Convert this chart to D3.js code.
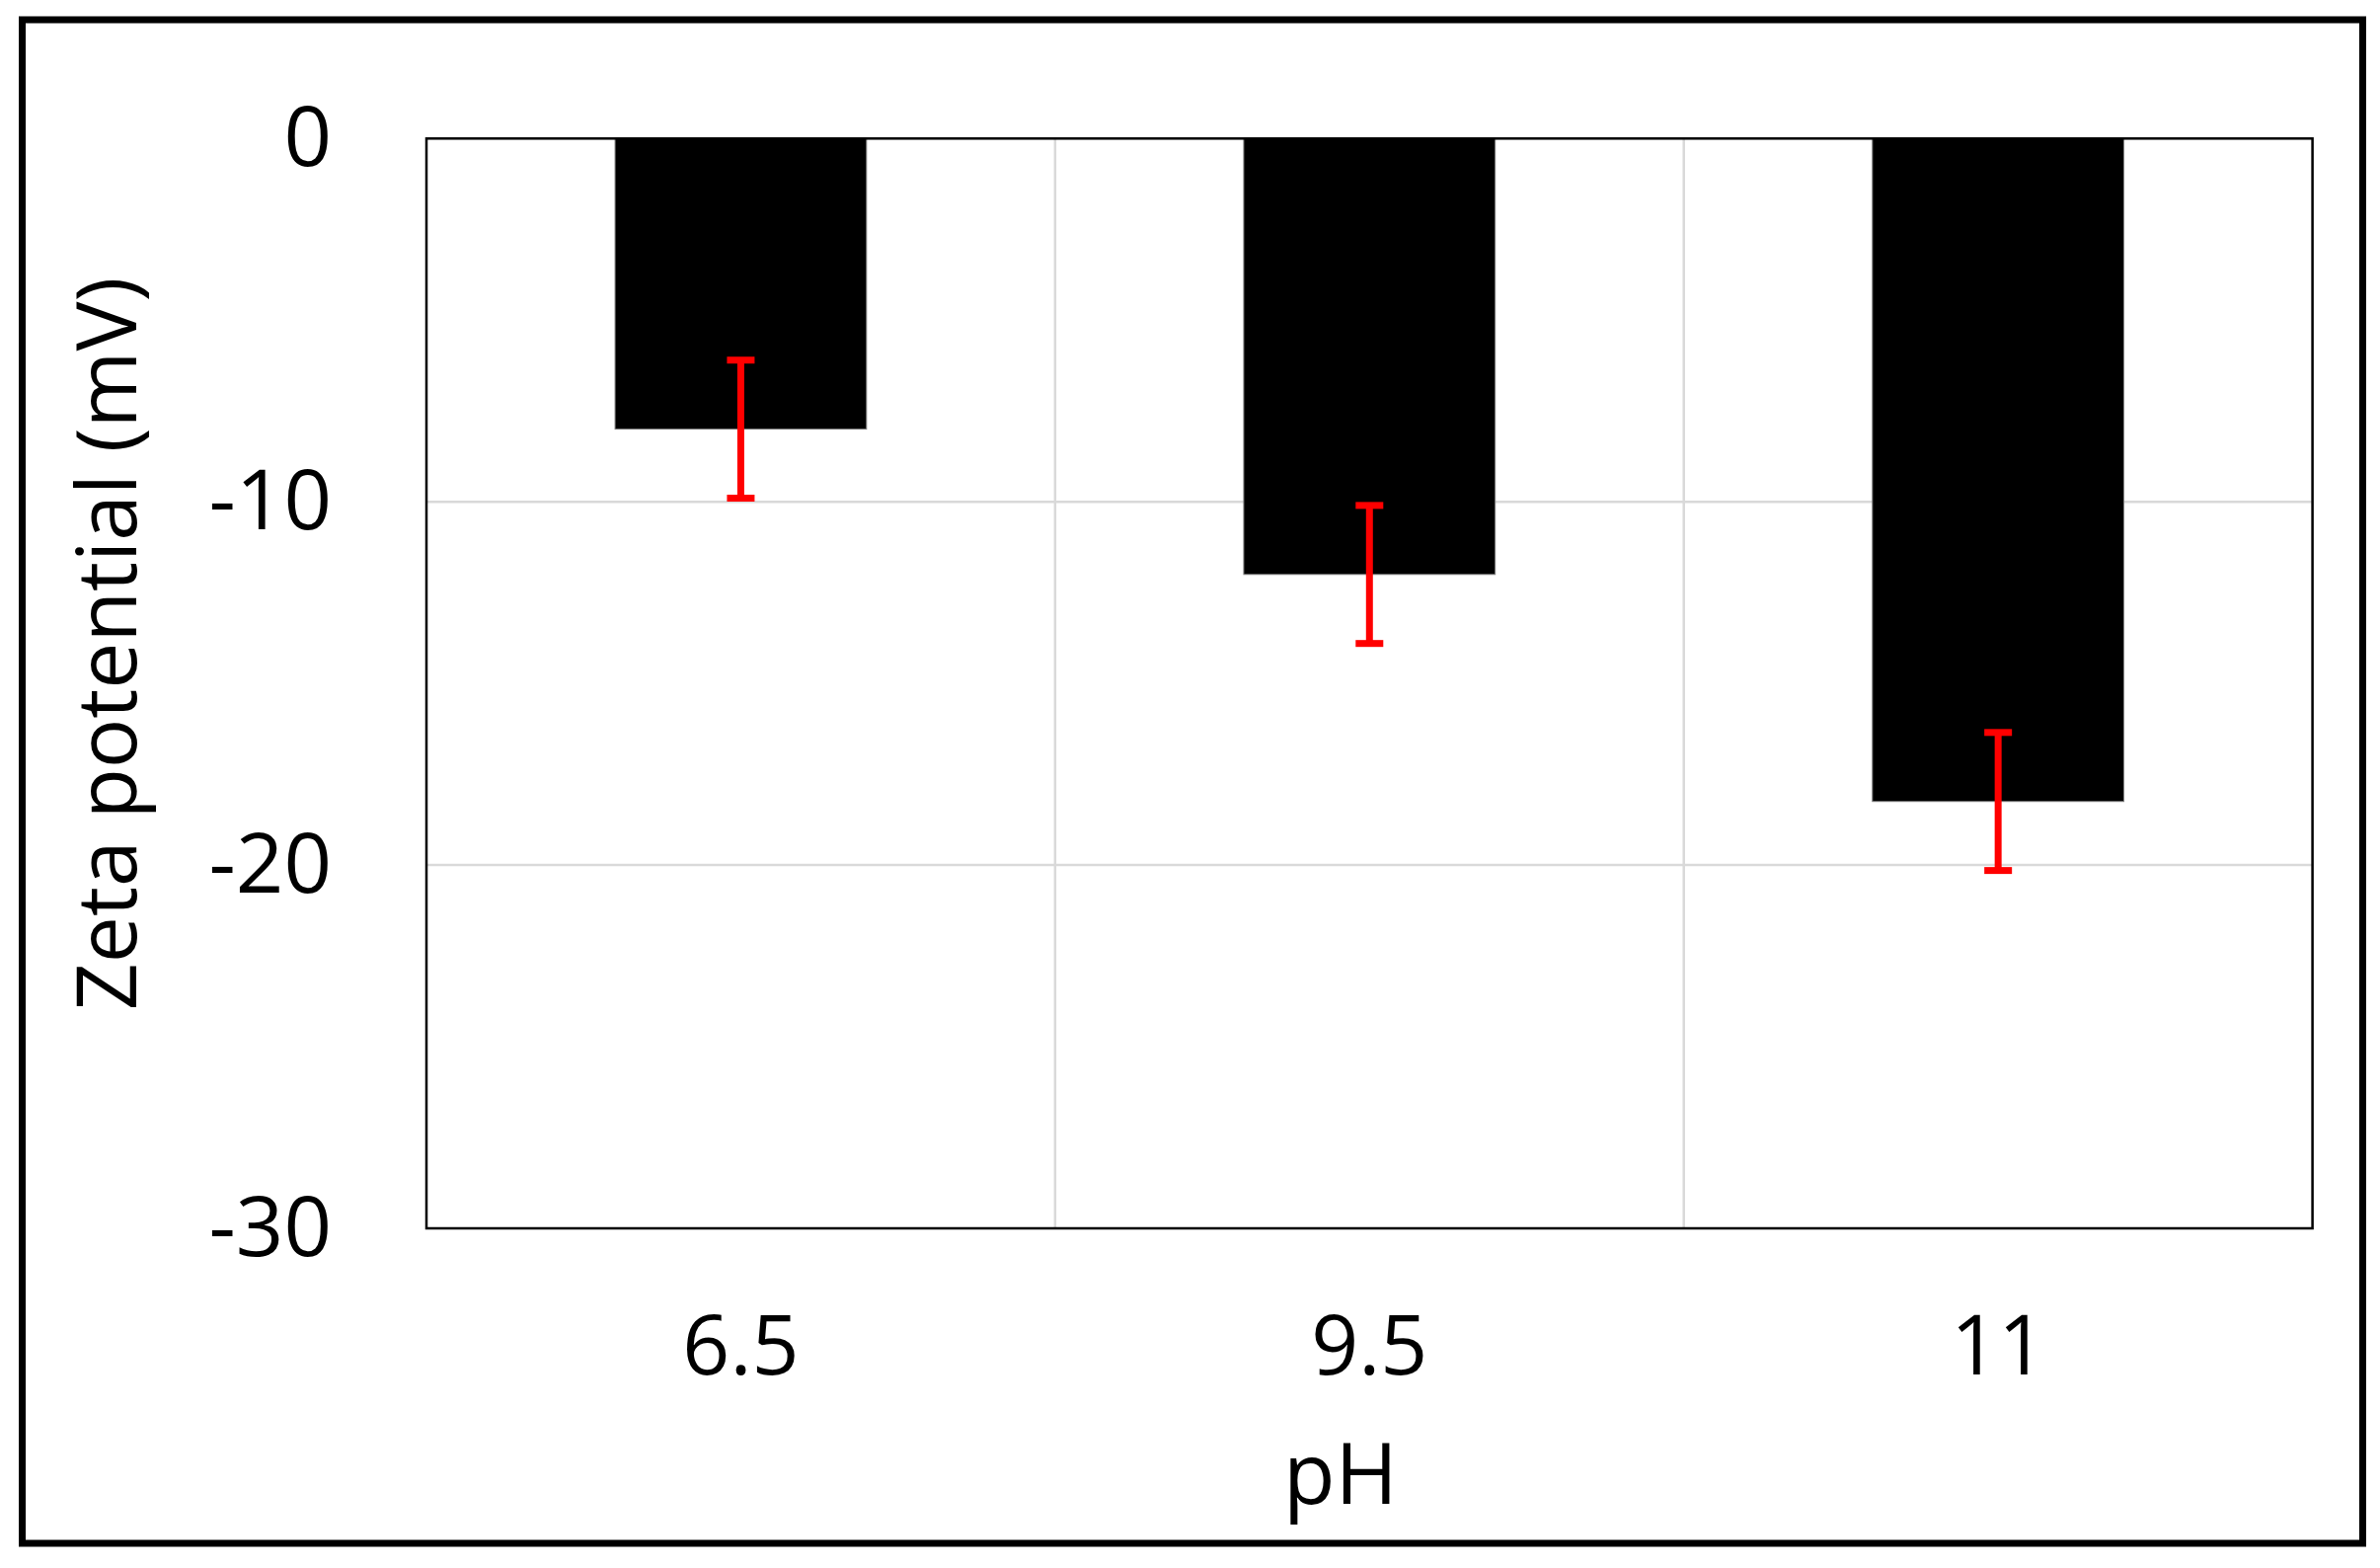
<!DOCTYPE html>
<html>
<head>
<meta charset="utf-8">
<script src="https://cdn.jsdelivr.net/npm/d3@7"></script>
<style>
  html, body { margin: 0; padding: 0; background: #fff; }
  svg { display: block; }
</style>
</head>
<body>
<svg id="chart" width="2411" height="1588"></svg>
<script>
// ---- data ----
const categories = ["6.5", "9.5", "11"];
const zeta = [-8.0, -12.0, -18.25];
const errors = [1.9, 1.9, 1.9];
const yTicks = [0, -10, -20, -30];
const xTitle = "pH";
const yTitle = "Zeta potential (mV)";

// ---- layout ----
const W = 2411, H = 1588;
const plot = { left: 432, right: 2342.6, top: 140.3, bottom: 1244 };
const FONT = "'Open Sans', 'Noto Sans', sans-serif";

const svg = d3.select("#chart");

// outer frame
svg.append("rect")
  .attr("x", 22.5).attr("y", 20)
  .attr("width", 2371).attr("height", 1543)
  .attr("fill", "#fff").attr("stroke", "#000").attr("stroke-width", 7);

const x = d3.scaleBand()
  .domain(categories)
  .range([plot.left, plot.right])
  .paddingInner(0.6)
  .paddingOuter(0.3);

const y = d3.scaleLinear()
  .domain([-30, 0])
  .range([plot.bottom, plot.top]);

// plot background
svg.append("rect")
  .attr("x", plot.left).attr("y", plot.top)
  .attr("width", plot.right - plot.left).attr("height", plot.bottom - plot.top)
  .attr("fill", "#fff");

// horizontal gridlines
svg.append("g").selectAll("line")
  .data(yTicks.filter(d => d !== 0 && d !== -30))
  .join("line")
  .attr("x1", plot.left).attr("x2", plot.right)
  .attr("y1", d => y(d)).attr("y2", d => y(d))
  .attr("stroke", "#d9d9d9").attr("stroke-width", 2.5);

// vertical gridlines between categories
const step = x.step();
svg.append("g").selectAll("line")
  .data(categories.slice(1))
  .join("line")
  .attr("x1", d => x(d) + x.bandwidth() / 2 - step / 2)
  .attr("x2", d => x(d) + x.bandwidth() / 2 - step / 2)
  .attr("y1", plot.top).attr("y2", plot.bottom)
  .attr("stroke", "#d9d9d9").attr("stroke-width", 2.5);

// bars
svg.append("g").selectAll("rect")
  .data(categories)
  .join("rect")
  .attr("x", d => x(d))
  .attr("width", x.bandwidth())
  .attr("y", y(0))
  .attr("height", (d, i) => y(zeta[i]) - y(0))
  .attr("fill", "#000")
  .attr("stroke", "#808080").attr("stroke-width", 1);

// error bars
const capW = 28;
const eb = svg.append("g").attr("stroke", "#ff0000").attr("stroke-width", 7);
categories.forEach((c, i) => {
  const cx = x(c) + x.bandwidth() / 2;
  const hi = y(zeta[i] + errors[i]);
  const lo = y(zeta[i] - errors[i]);
  eb.append("line").attr("x1", cx).attr("x2", cx).attr("y1", hi).attr("y2", lo);
  eb.append("line").attr("x1", cx - capW / 2).attr("x2", cx + capW / 2).attr("y1", hi).attr("y2", hi);
  eb.append("line").attr("x1", cx - capW / 2).attr("x2", cx + capW / 2).attr("y1", lo).attr("y2", lo);
});

// plot border
svg.append("rect")
  .attr("x", plot.left).attr("y", plot.top)
  .attr("width", plot.right - plot.left).attr("height", plot.bottom - plot.top)
  .attr("fill", "none").attr("stroke", "#000").attr("stroke-width", 2.5);

// y axis
const yAxis = svg.append("g")
  .attr("transform", `translate(${plot.left},0)`)
  .call(d3.axisLeft(y).tickValues(yTicks).tickSize(0).tickPadding(96).tickFormat(d3.format("d")));
yAxis.select(".domain").remove();
yAxis.selectAll("text")
  .attr("font-family", FONT).attr("font-size", 85).attr("fill", "#000")
  .text(d => d === 0 ? "0" : "-" + Math.abs(d));

// x axis
const xAxis = svg.append("g")
  .attr("transform", `translate(0,${plot.bottom})`)
  .call(d3.axisBottom(x).tickSize(0).tickPadding(88));
xAxis.select(".domain").remove();
xAxis.selectAll("text")
  .attr("font-family", FONT).attr("font-size", 84).attr("fill", "#000");

// axis titles
svg.append("text")
  .attr("x", 1358).attr("y", 1523)
  .attr("text-anchor", "middle")
  .attr("font-family", FONT).attr("font-size", 86).attr("fill", "#000")
  .text(xTitle);

svg.append("text")
  .attr("transform", "translate(138,652) rotate(-90)")
  .attr("text-anchor", "middle")
  .attr("font-family", FONT).attr("font-size", 84).attr("fill", "#000")
  .text(yTitle);
</script>
</body>
</html>
